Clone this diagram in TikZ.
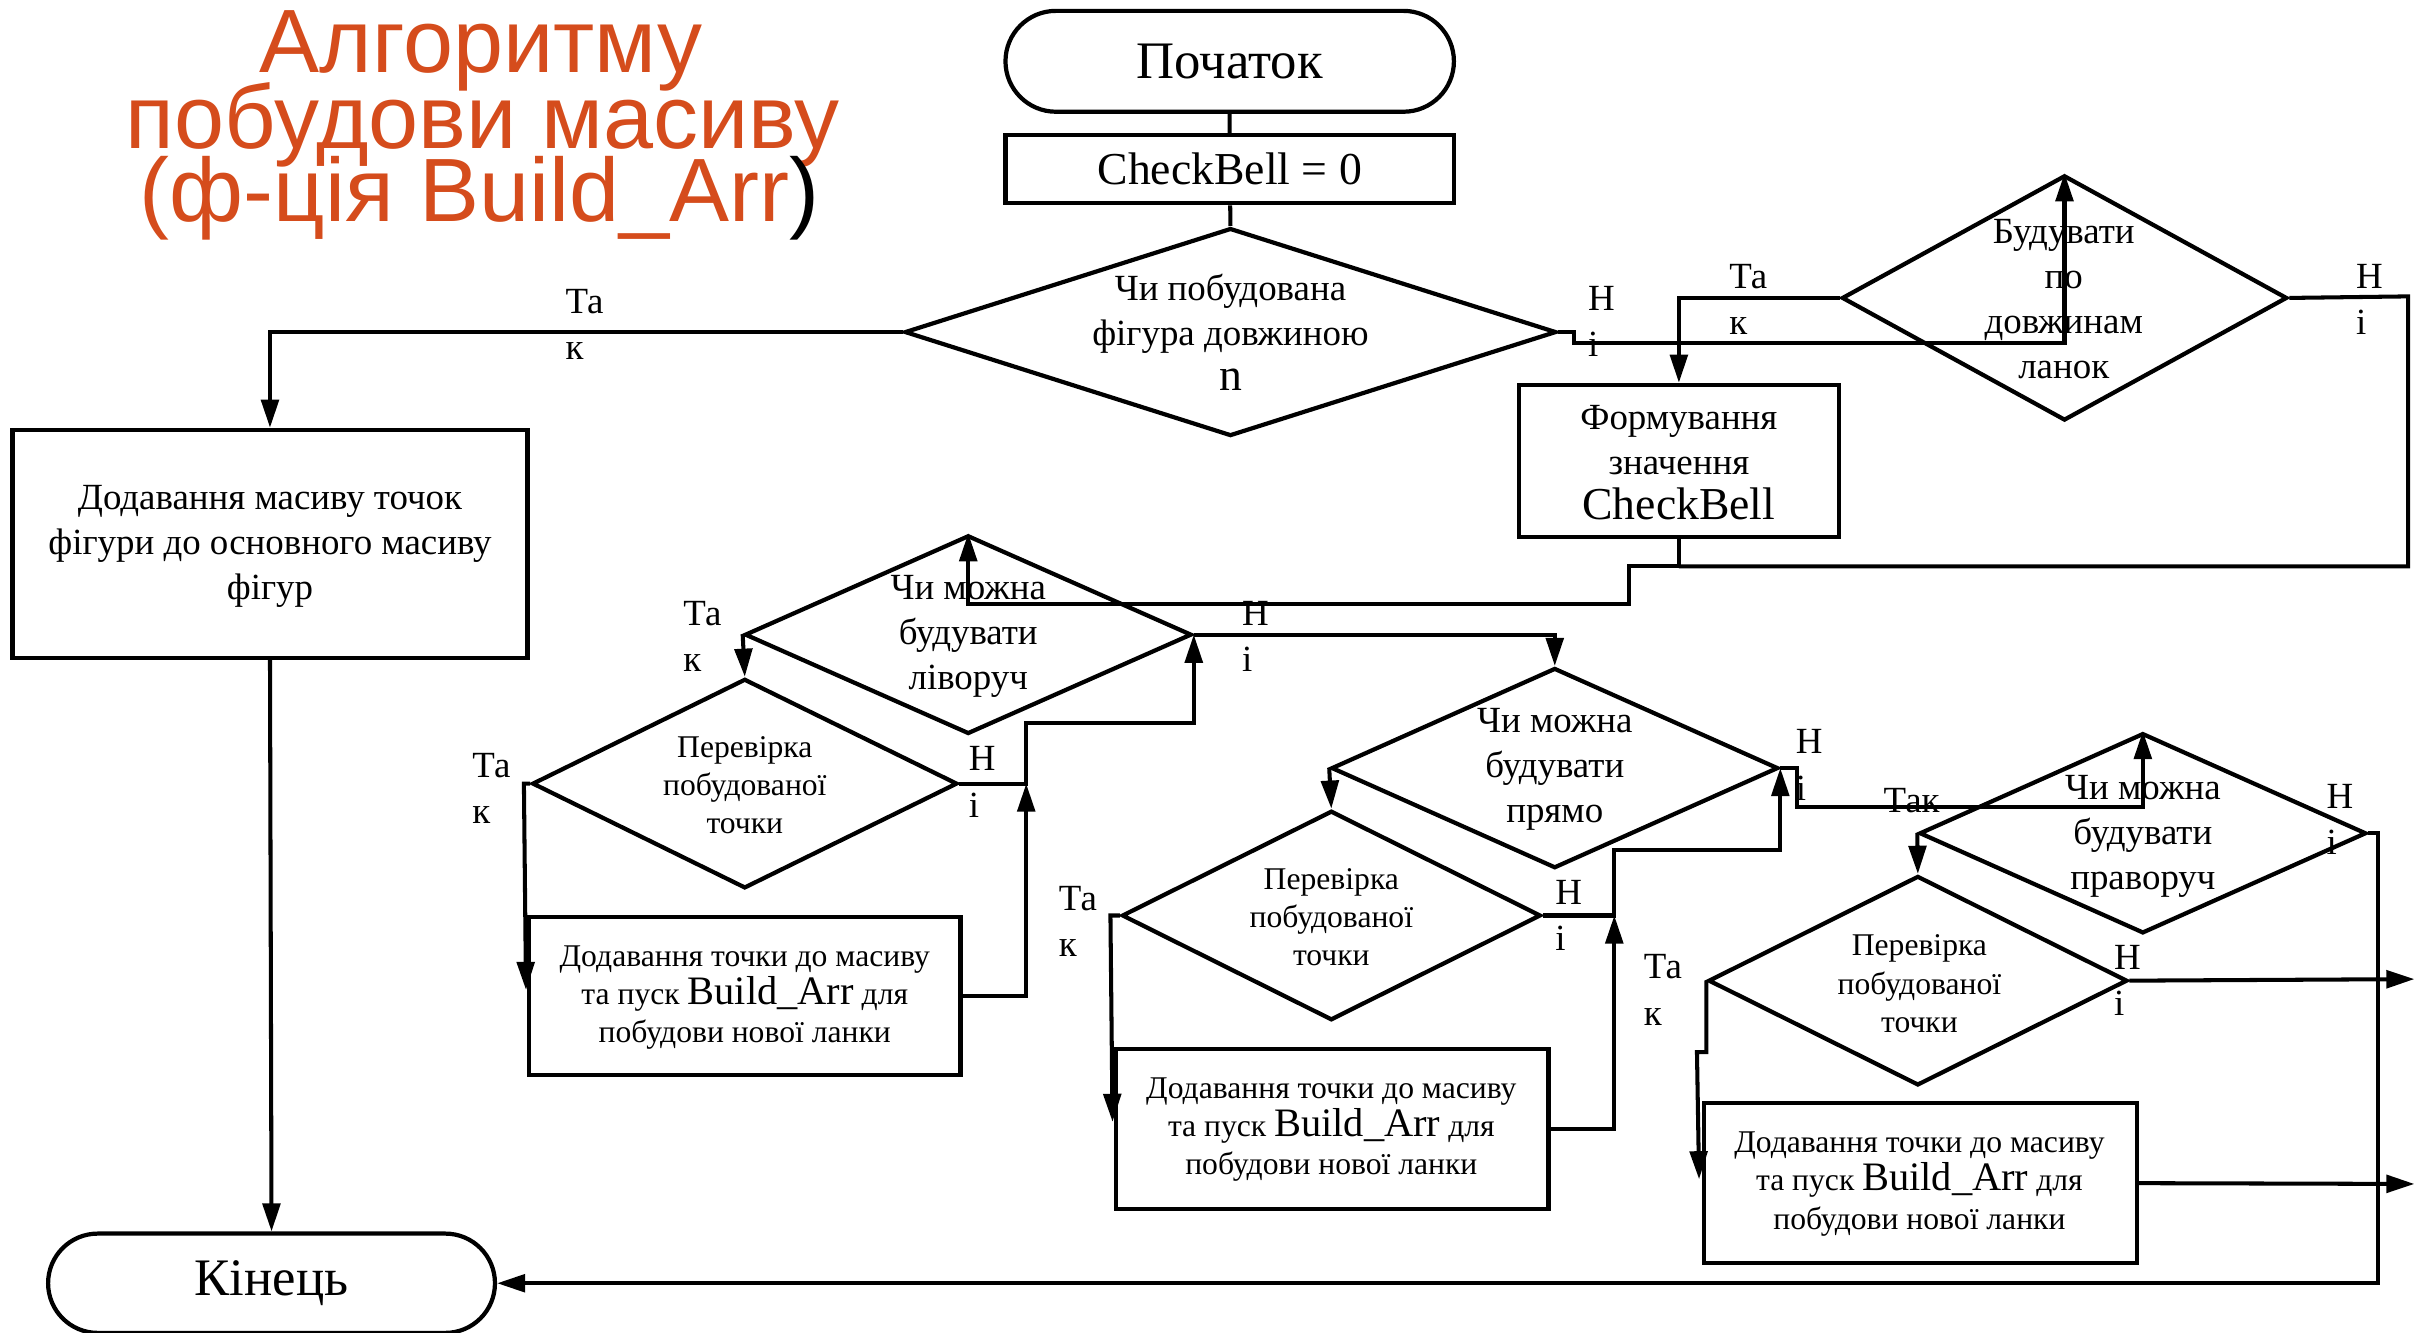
\documentclass[tikz,border=0pt]{standalone}
\usepackage{fontspec}
\setmainfont{Liberation Serif}
\newfontfamily\titlefont{Liberation Sans}
\usetikzlibrary{shapes.geometric,shapes.misc,arrows.meta,calc}
\definecolor{ttl}{RGB}{213,76,28}
\newcommand\pxu{0.015517cm}
\begin{document}
\begin{tikzpicture}[x=0.015517cm,y=-0.015517cm,
  ln/.style={line width=1.15pt,black},
  arr/.style={ln,-{Triangle[length=8pt,width=5pt]}},
  box/.style={draw,rectangle,line width=1.2pt,inner sep=0pt},
  dia/.style={draw,diamond,line width=1.2pt,inner sep=0pt},
  term/.style={draw,rounded rectangle,line width=1.2pt,inner sep=0pt},
  txt/.style={align=center,inner sep=0pt,font=\fontsize{10.5}{12.8}\selectfont},
  sm/.style={align=center,inner sep=0pt,font=\fontsize{9}{10.9}\selectfont},
  lbl/.style={align=left,anchor=west,inner sep=0pt,font=\fontsize{10.5}{13.2}\selectfont},
  ttlst/.style={anchor=base,inner sep=0pt,text=ttl,font=\titlefont\fontsize{25.6}{26}\selectfont}]
\useasboundingbox (0,0) rectangle (1568,859);
% title
\node[ttlst] (t1) at (310,47) {Алгоритму};
\node[ttlst] (t2) at (311,96) {побудови масиву};
\node[ttlst] (t3) at (309,143) {(ф-ція Build\_Arr\textcolor{black}{)}};
% shapes
\node[term,minimum width=289*\pxu,minimum height=65*\pxu,font=\fontsize{15}{18}\selectfont] (start) at (792.5,39.5) {Початок};
\node[box,minimum width=289*\pxu,minimum height=44*\pxu,font=\fontsize{13}{15}\selectfont] (init) at (792.5,109) {CheckBell = 0};
\node[dia,minimum width=420*\pxu,minimum height=134*\pxu] (d1) at (793,214) {};
\node[txt] (d1t) at (793,214) {Чи побудована\\фігура довжиною\\{\fontsize{13}{12.8}\selectfont n}};
\node[box,minimum width=332*\pxu,minimum height=147*\pxu] (box1) at (174,350.5) {};
\node[txt] (box1t) at (174,352) {Додавання масиву точок\\фігури до основного масиву\\фігур};
\node[term,minimum width=288*\pxu,minimum height=64*\pxu,font=\fontsize{15}{18}\selectfont] (end) at (175,827) {Кінець};
\node[dia,minimum width=287*\pxu,minimum height=158*\pxu] (d2) at (1330.5,192) {};
\node[txt] (d2t) at (1330,193) {Будувати\\по\\довжинам\\ланок};
\node[box,minimum width=206*\pxu,minimum height=98*\pxu] (form) at (1082,297) {};
\node[txt] (formt) at (1082,298) {Формування\\значення\\{\fontsize{13}{12.8}\selectfont CheckBell}};
\node[dia,minimum width=288*\pxu,minimum height=128*\pxu] (d3) at (624,409) {};
\node[txt] (d3t) at (624,410) {Чи можна\\будувати\\ліворуч};
\node[dia,minimum width=274*\pxu,minimum height=135*\pxu] (d4) at (480,505) {};
\node[sm] (d4t) at (480,506) {Перевірка\\побудованої\\точки};
\node[box,minimum width=278*\pxu,minimum height=102*\pxu] (box4) at (480,642) {};
\node[sm] (box4t) at (480,643) {Додавання точки до масиву\\та пуск {\fontsize{11.5}{10.9}\selectfont Build\_Arr} для\\побудови нової ланки};
\node[dia,minimum width=288*\pxu,minimum height=129*\pxu] (d5) at (1002,495) {};
\node[txt] (d5t) at (1002,496) {Чи можна\\будувати\\прямо};
\node[dia,minimum width=270*\pxu,minimum height=135*\pxu] (d6) at (858,590) {};
\node[sm] (d6t) at (858,591) {Перевірка\\побудованої\\точки};
\node[box,minimum width=279*\pxu,minimum height=103*\pxu] (box6) at (858.5,727.5) {};
\node[sm] (box6t) at (858,728) {Додавання точки до масиву\\та пуск {\fontsize{11.5}{10.9}\selectfont Build\_Arr} для\\побудови нової ланки};
\node[dia,minimum width=288*\pxu,minimum height=129*\pxu] (d7) at (1381,537) {};
\node[txt] (d7t) at (1381,539) {Чи можна\\будувати\\праворуч};
\node[dia,minimum width=270*\pxu,minimum height=135*\pxu] (d8) at (1236,632) {};
\node[sm] (d8t) at (1237,634) {Перевірка\\побудованої\\точки};
\node[box,minimum width=279*\pxu,minimum height=103*\pxu] (box8) at (1237.5,762.5) {};
\node[sm] (box8t) at (1237,763) {Додавання точки до масиву\\та пуск {\fontsize{11.5}{10.9}\selectfont Build\_Arr} для\\побудови нової ланки};
% free ends / junctions
\coordinate (a4) at (339,638);
\coordinate (a6) at (717,723);
\coordinate (a8) at (1095,760);
\coordinate (o8) at (1556,631);
\coordinate (ob8) at (1556,763);
\coordinate (j1) at (1082,365);
% connectors
\draw[ln] (start) -- (init);
\draw[ln] (init) -- (d1.north);
\draw[arr] (d1.west) -| (box1.north);
\draw[arr] (box1.south) -- (end.north);
\draw[arr] (d1.east) -- ++(10,0) -- ++(0,7) -| (d2.north);
\draw[arr] (d2.west) -| (form.north);
\draw[ln] (d2.east) -- (1552,191) |- (j1);
\draw[arr] (form.south) -- (j1) -- ++(-32,0) -- ++(0,24) -| (d3.north);
\draw[arr] (d3.west) -- (d4.north);
\draw[arr] (d3.east) -| (d5.north);
\draw[arr] (d4.west) -- ++(-4,0) -- (a4);
\draw[arr] (d4.east) -- ++(43,0) -- ++(0,-39) -| (d3.east);
\draw[arr] (box4.east) -| ($(d4.east)+(43,0)$);
\draw[arr] (d5.west) -- (d6.north);
\draw[arr] (d5.east) -- ++(11,0) -- ++(0,25) -| (d7.north);
\draw[arr] (d6.west) -- ++(-6,0) -- (a6);
\draw[arr] (d6.east) -- ++(46,0) -- ++(0,-42) -| (d5.east);
\draw[arr] (box6.east) -| ($(d6.east)+(46,0)$);
\draw[arr] (d7.west) -- (d8.north);
\draw[arr] (d7.east) -- ++(6,0) |- (end.east);
\draw[arr] (d8.west) -- ++(0,46) -- ++(-6,0) -- (a8);
\draw[arr] (d8.east) -- (o8);
\draw[arr] (box8.east) -- (ob8);
% labels
\node[lbl] (l1) at (364,209) {Та\\к};
\node[lbl] (l2) at (1023,207) {Н\\і};
\node[lbl] (l3) at (1114,193) {Та\\к};
\node[lbl] (l4) at (1518,193) {Н\\і};
\node[lbl] (l5) at (440,410) {Та\\к};
\node[lbl] (l6) at (800,410) {Н\\і};
\node[lbl] (l7) at (304,508) {Та\\к};
\node[lbl] (l8) at (624,504) {Н\\і};
\node[lbl] (l9) at (682,594) {Та\\к};
\node[lbl] (l10) at (1002,590) {Н\\і};
\node[lbl] (l11) at (1157,493) {Н\\і};
\node[lbl,anchor=center] (l12) at (1232,516) {Так};
\node[lbl] (l13) at (1499,528) {Н\\і};
\node[lbl] (l14) at (1059,638) {Та\\к};
\node[lbl] (l15) at (1362,632) {Н\\і};
\end{tikzpicture}
\end{document}
